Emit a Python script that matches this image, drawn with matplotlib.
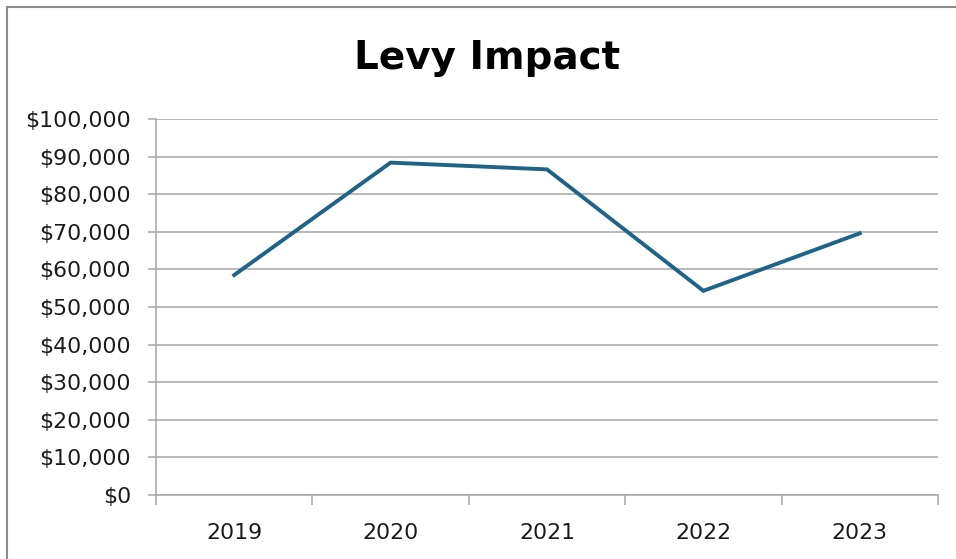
import matplotlib
matplotlib.use("Agg")
import matplotlib.pyplot as plt
from matplotlib.patches import Rectangle
from matplotlib.ticker import FuncFormatter, FixedLocator

years = ["2019", "2020", "2021", "2022", "2023"]
levy = [58500, 88400, 86600, 54300, 69600]

fig = plt.figure(figsize=(9.56, 5.59), dpi=100)
ax = fig.add_axes([156/956, 1-495/559, (938-156)/956, (495-119)/559])

x = list(range(len(years)))
ax.plot(x, levy, color="#1f6387", lw=2.8, solid_joinstyle="miter", zorder=3)

ax.set_xlim(-0.5, len(years)-0.5)
ax.set_ylim(0, 100000)
ax.set_yticks(range(0, 100001, 10000))
ax.yaxis.set_major_formatter(FuncFormatter(lambda v, p: "${:,.0f}".format(v)))
ax.set_xticks(x)
ax.set_xticklabels(years)
ax.xaxis.set_minor_locator(FixedLocator([i-0.5 for i in range(len(years)+1)]))

ax.grid(axis="y", color="#a6a6a6", lw=1.1, zorder=0)
for s in ["top", "right"]:
    ax.spines[s].set_visible(False)
for s in ["left", "bottom"]:
    ax.spines[s].set_color("#a6a6a6")
    ax.spines[s].set_linewidth(1.1)

ax.tick_params(axis="y", length=6, width=1.1, color="#a6a6a6", pad=12,
               labelsize=15.8, labelcolor="#1a1a1a")
ax.tick_params(axis="x", which="major", length=0, pad=20,
               labelsize=15.8, labelcolor="#1a1a1a")
ax.tick_params(axis="x", which="minor", length=7, width=1.1, color="#a6a6a6")

fig.text(487/956, 1-58/559, "Levy Impact", ha="center", va="center",
         fontsize=28, fontweight="bold", color="black")

fig.add_artist(Rectangle((7/956, -0.1), 1.2, 1.1-7/559, transform=fig.transFigure,
                         fill=False, edgecolor="#8c8c8c", lw=1.5))

fig.savefig("out.png", dpi=100)
